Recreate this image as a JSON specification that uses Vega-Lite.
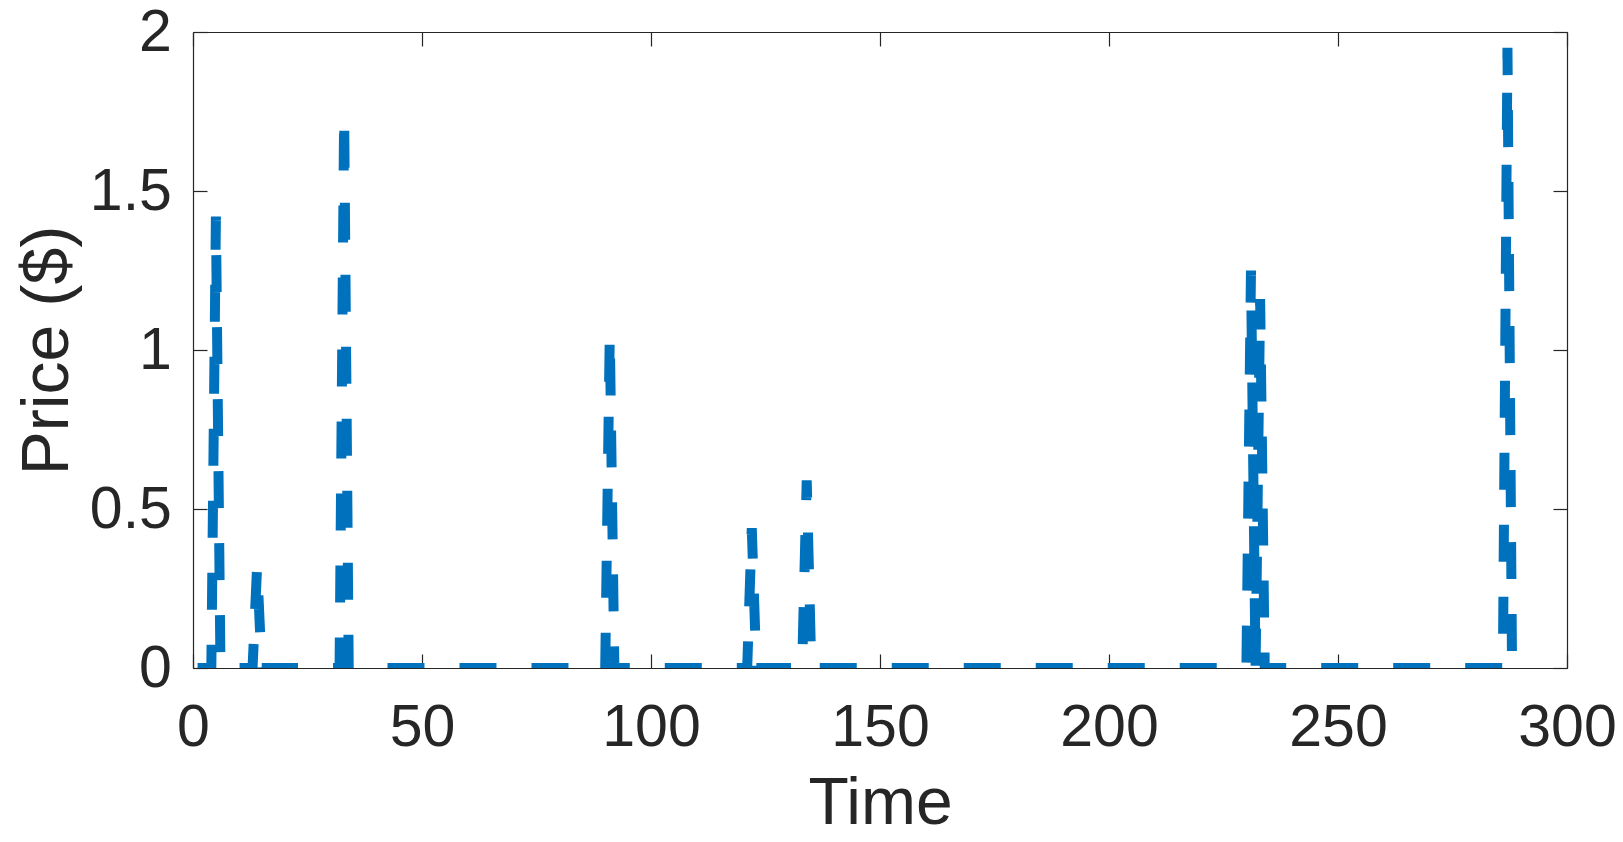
{
  "$schema": "https://vega.github.io/schema/vega-lite/v6.json",
  "width": 1374,
  "height": 636,
  "autosize": {"type": "none"},
  "padding": {"left": 193, "top": 32, "right": 56, "bottom": 174},
  "background": "white",
  "config": {
    "view": {"stroke": null},
    "font": "Liberation Sans",
    "axis": {
      "domainColor": "#262626",
      "domainWidth": 1.2,
      "tickColor": "#262626",
      "tickWidth": 1.2,
      "tickSize": -14,
      "grid": false,
      "labelColor": "#262626",
      "titleColor": "#262626",
      "labelFont": "Liberation Sans",
      "titleFont": "Liberation Sans",
      "labelFontSize": 59,
      "titleFontSize": 66,
      "titleFontWeight": "normal"
    }
  },
  "data": {
    "values": [
      {"t":1,"p":0},{"t":2,"p":0},{"t":3,"p":0},{"t":4,"p":0},{"t":5,"p":1.42},{"t":6,"p":0},{"t":7,"p":0},{"t":8,"p":0},{"t":9,"p":0},{"t":10,"p":0},
      {"t":11,"p":0},{"t":12,"p":0},{"t":13,"p":0},{"t":14,"p":0.32},{"t":15,"p":0},{"t":16,"p":0},{"t":17,"p":0},{"t":18,"p":0},{"t":19,"p":0},{"t":20,"p":0},
      {"t":21,"p":0},{"t":22,"p":0},{"t":23,"p":0},{"t":24,"p":0},{"t":25,"p":0},{"t":26,"p":0},{"t":27,"p":0},{"t":28,"p":0},{"t":29,"p":0},{"t":30,"p":0},
      {"t":31,"p":0},{"t":32,"p":0},{"t":33,"p":1.74},{"t":34,"p":0},{"t":35,"p":0},{"t":36,"p":0},{"t":37,"p":0},{"t":38,"p":0},{"t":39,"p":0},{"t":40,"p":0},
      {"t":41,"p":0},{"t":42,"p":0},{"t":43,"p":0},{"t":44,"p":0},{"t":45,"p":0},{"t":46,"p":0},{"t":47,"p":0},{"t":48,"p":0},{"t":49,"p":0},{"t":50,"p":0},
      {"t":51,"p":0},{"t":52,"p":0},{"t":53,"p":0},{"t":54,"p":0},{"t":55,"p":0},{"t":56,"p":0},{"t":57,"p":0},{"t":58,"p":0},{"t":59,"p":0},{"t":60,"p":0},
      {"t":61,"p":0},{"t":62,"p":0},{"t":63,"p":0},{"t":64,"p":0},{"t":65,"p":0},{"t":66,"p":0},{"t":67,"p":0},{"t":68,"p":0},{"t":69,"p":0},{"t":70,"p":0},
      {"t":71,"p":0},{"t":72,"p":0},{"t":73,"p":0},{"t":74,"p":0},{"t":75,"p":0},{"t":76,"p":0},{"t":77,"p":0},{"t":78,"p":0},{"t":79,"p":0},{"t":80,"p":0},
      {"t":81,"p":0},{"t":82,"p":0},{"t":83,"p":0},{"t":84,"p":0},{"t":85,"p":0},{"t":86,"p":0},{"t":87,"p":0},{"t":88,"p":0},{"t":89,"p":0},{"t":90,"p":0},
      {"t":91,"p":1.05},{"t":92,"p":0},{"t":93,"p":0},{"t":94,"p":0},{"t":95,"p":0},{"t":96,"p":0},{"t":97,"p":0},{"t":98,"p":0},{"t":99,"p":0},{"t":100,"p":0},
      {"t":101,"p":0},{"t":102,"p":0},{"t":103,"p":0},{"t":104,"p":0},{"t":105,"p":0},{"t":106,"p":0},{"t":107,"p":0},{"t":108,"p":0},{"t":109,"p":0},{"t":110,"p":0},
      {"t":111,"p":0},{"t":112,"p":0},{"t":113,"p":0},{"t":114,"p":0},{"t":115,"p":0},{"t":116,"p":0},{"t":117,"p":0},{"t":118,"p":0},{"t":119,"p":0},{"t":120,"p":0},
      {"t":121,"p":0},{"t":122,"p":0.44},{"t":123,"p":0},{"t":124,"p":0},{"t":125,"p":0},{"t":126,"p":0},{"t":127,"p":0},{"t":128,"p":0},{"t":129,"p":0},{"t":130,"p":0},
      {"t":131,"p":0},{"t":132,"p":0},{"t":133,"p":0},{"t":134,"p":0.59},{"t":135,"p":0},{"t":136,"p":0},{"t":137,"p":0},{"t":138,"p":0},{"t":139,"p":0},{"t":140,"p":0},
      {"t":141,"p":0},{"t":142,"p":0},{"t":143,"p":0},{"t":144,"p":0},{"t":145,"p":0},{"t":146,"p":0},{"t":147,"p":0},{"t":148,"p":0},{"t":149,"p":0},{"t":150,"p":0},
      {"t":151,"p":0},{"t":152,"p":0},{"t":153,"p":0},{"t":154,"p":0},{"t":155,"p":0},{"t":156,"p":0},{"t":157,"p":0},{"t":158,"p":0},{"t":159,"p":0},{"t":160,"p":0},
      {"t":161,"p":0},{"t":162,"p":0},{"t":163,"p":0},{"t":164,"p":0},{"t":165,"p":0},{"t":166,"p":0},{"t":167,"p":0},{"t":168,"p":0},{"t":169,"p":0},{"t":170,"p":0},
      {"t":171,"p":0},{"t":172,"p":0},{"t":173,"p":0},{"t":174,"p":0},{"t":175,"p":0},{"t":176,"p":0},{"t":177,"p":0},{"t":178,"p":0},{"t":179,"p":0},{"t":180,"p":0},
      {"t":181,"p":0},{"t":182,"p":0},{"t":183,"p":0},{"t":184,"p":0},{"t":185,"p":0},{"t":186,"p":0},{"t":187,"p":0},{"t":188,"p":0},{"t":189,"p":0},{"t":190,"p":0},
      {"t":191,"p":0},{"t":192,"p":0},{"t":193,"p":0},{"t":194,"p":0},{"t":195,"p":0},{"t":196,"p":0},{"t":197,"p":0},{"t":198,"p":0},{"t":199,"p":0},{"t":200,"p":0},
      {"t":201,"p":0},{"t":202,"p":0},{"t":203,"p":0},{"t":204,"p":0},{"t":205,"p":0},{"t":206,"p":0},{"t":207,"p":0},{"t":208,"p":0},{"t":209,"p":0},{"t":210,"p":0},
      {"t":211,"p":0},{"t":212,"p":0},{"t":213,"p":0},{"t":214,"p":0},{"t":215,"p":0},{"t":216,"p":0},{"t":217,"p":0},{"t":218,"p":0},{"t":219,"p":0},{"t":220,"p":0},
      {"t":221,"p":0},{"t":222,"p":0},{"t":223,"p":0},{"t":224,"p":0},{"t":225,"p":0},{"t":226,"p":0},{"t":227,"p":0},{"t":228,"p":0},{"t":229,"p":0},{"t":230,"p":0},
      {"t":231,"p":1.25},{"t":232,"p":0},{"t":233,"p":1.16},{"t":234,"p":0},{"t":235,"p":0},{"t":236,"p":0},{"t":237,"p":0},{"t":238,"p":0},{"t":239,"p":0},{"t":240,"p":0},
      {"t":241,"p":0},{"t":242,"p":0},{"t":243,"p":0},{"t":244,"p":0},{"t":245,"p":0},{"t":246,"p":0},{"t":247,"p":0},{"t":248,"p":0},{"t":249,"p":0},{"t":250,"p":0},
      {"t":251,"p":0},{"t":252,"p":0},{"t":253,"p":0},{"t":254,"p":0},{"t":255,"p":0},{"t":256,"p":0},{"t":257,"p":0},{"t":258,"p":0},{"t":259,"p":0},{"t":260,"p":0},
      {"t":261,"p":0},{"t":262,"p":0},{"t":263,"p":0},{"t":264,"p":0},{"t":265,"p":0},{"t":266,"p":0},{"t":267,"p":0},{"t":268,"p":0},{"t":269,"p":0},{"t":270,"p":0},
      {"t":271,"p":0},{"t":272,"p":0},{"t":273,"p":0},{"t":274,"p":0},{"t":275,"p":0},{"t":276,"p":0},{"t":277,"p":0},{"t":278,"p":0},{"t":279,"p":0},{"t":280,"p":0},
      {"t":281,"p":0},{"t":282,"p":0},{"t":283,"p":0},{"t":284,"p":0},{"t":285,"p":0},{"t":286,"p":0},{"t":287,"p":1.95},{"t":288,"p":0}
    ]
  },
  "layer": [
    {
      "mark": {"type": "line", "color": "#0072BD", "strokeWidth": 10, "strokeDash": [37, 35], "strokeCap": "butt", "strokeJoin": "miter", "clip": true},
      "encoding": {
        "x": {"field": "t", "type": "quantitative", "scale": {"domain": [0, 300], "nice": false, "zero": false},
              "axis": {"orient": "bottom", "title": "Time", "values": [0, 50, 100, 150, 200, 250, 300], "labelExpr": "'' + datum.value", "labelPadding": 44, "titlePadding": 14, "labelFlush": false}},
        "y": {"field": "p", "type": "quantitative", "scale": {"domain": [0, 2], "nice": false},
              "axis": {"orient": "left", "title": "Price ($)", "values": [0, 0.5, 1, 1.5, 2], "labelExpr": "'' + datum.value", "labelPadding": 35.6, "titlePadding": 8, "labelFlush": false}}
      }
    },
    {
      "mark": {"type": "line", "opacity": 0},
      "encoding": {
        "x": {"field": "t", "type": "quantitative", "scale": {"domain": [0, 300], "nice": false, "zero": false},
              "axis": {"orient": "top", "title": null, "labels": false, "values": [0, 50, 100, 150, 200, 250, 300]}},
        "y": {"field": "p", "type": "quantitative", "scale": {"domain": [0, 2], "nice": false},
              "axis": {"orient": "right", "title": null, "labels": false, "values": [0, 0.5, 1, 1.5, 2]}}
      }
    }
  ],
  "resolve": {"axis": {"x": "independent", "y": "independent"}}
}
